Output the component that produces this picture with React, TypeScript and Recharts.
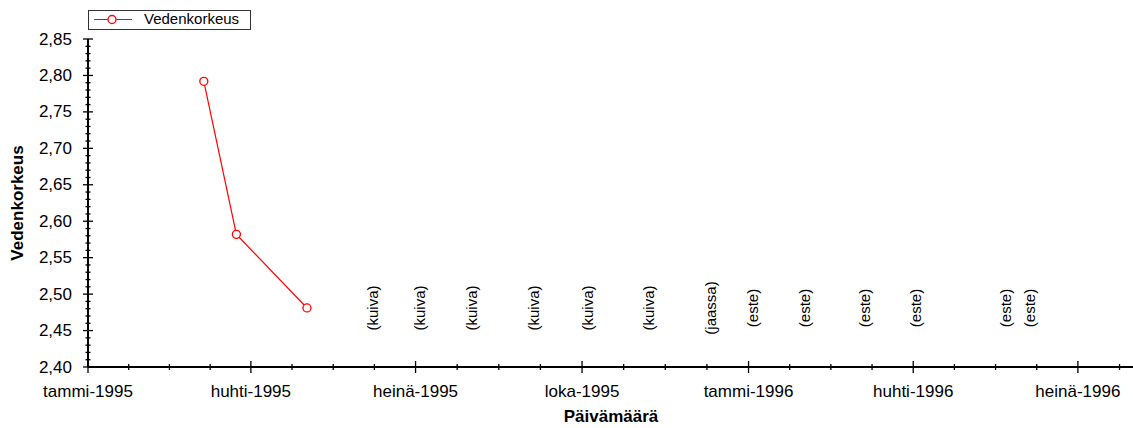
import React from 'react';
import { ComposedChart, Line, Scatter, XAxis, YAxis, Legend, Label } from 'recharts';

const FONT = '"Liberation Sans", Arial, Helvetica, sans-serif';

// measured water levels
const measureDates = ['1995-03-06', '1995-03-24', '1995-05-02'];
const measureLevels = [2.792, 2.582, 2.481];

// visits without a reading
const noteDates = [
  '1995-06-07', '1995-07-03', '1995-08-01', '1995-09-04', '1995-10-04', '1995-11-07',
  '1995-12-11', '1996-01-03', '1996-02-01', '1996-03-05', '1996-04-02', '1996-05-22', '1996-06-04',
];
const noteTexts = [
  '(kuiva)', '(kuiva)', '(kuiva)', '(kuiva)', '(kuiva)', '(kuiva)',
  '(jaassa)', '(este)', '(este)', '(este)', '(este)', '(este)', '(este)',
];
const noteLevel = 2.481;

// axes
const dateRange = ['1995-01-01', '1996-08-01'];
const quarterDates = [
  '1995-01-01', '1995-04-01', '1995-07-01', '1995-10-01',
  '1996-01-01', '1996-04-01', '1996-07-01', '1996-10-01',
];
const quarterLabels = [
  'tammi-1995', 'huhti-1995', 'heinä-1995', 'loka-1995',
  'tammi-1996', 'huhti-1996', 'heinä-1996', 'loka-1996',
];
const levelRange = [2.4, 2.85];
const levelMajors = [2.4, 2.45, 2.5, 2.55, 2.6, 2.65, 2.7, 2.75, 2.8, 2.85];

const ts = (d: string) => new Date(d + 'T00:00:00Z').getTime();

const levelData = measureDates.map((d, i) => ({ t: ts(d), v: measureLevels[i] }));
const noteData = noteDates.map((d, i) => ({ t: ts(d), v: noteLevel, note: noteTexts[i] }));

const xDomain = [ts(dateRange[0]), ts(dateRange[1])];
const quarterTs = quarterDates.map(ts);
const quarterLabelOf: Record<number, string> = {};
quarterTs.forEach((q, i) => (quarterLabelOf[q] = quarterLabels[i]));

// each quarter split in four
const xTicks: number[] = [];
for (let i = 0; i < quarterTs.length - 1; i++) {
  const a = quarterTs[i];
  const b = quarterTs[i + 1];
  for (let k = 0; k < 4; k++) {
    const t = Math.round(a + ((b - a) * k) / 4);
    if (t <= xDomain[1]) xTicks.push(t);
  }
}

// minor tick every 0.01
const yTicks: number[] = [];
for (let i = 0; i < levelMajors.length - 1; i++) {
  for (let k = 0; k < 5; k++) yTicks.push(Math.round(levelMajors[i] * 100 + k) / 100);
}
yTicks.push(levelMajors[levelMajors.length - 1]);
const isMajorY = (v: number) => Math.round(v * 100) % 5 === 0;
const fmtLevel = (v: number) => v.toFixed(2).replace('.', ',');

const BottomTick = (props: any) => {
  const { x, y, payload } = props;
  const label = quarterLabelOf[payload.value];
  const len = label ? 6 : 3;
  return (
    <g>
      <line x1={x} x2={x} y1={y - len} y2={y + len} stroke="#000" strokeWidth={1.3} />
      {label && (
        <text x={x} y={y + 30} textAnchor="middle" fontSize={17} fill="#000" fontFamily={FONT}>
          {label}
        </text>
      )}
    </g>
  );
};

const TopTick = (props: any) => {
  const { x, y, payload } = props;
  const len = quarterLabelOf[payload.value] ? 6 : 3;
  return <line x1={x} x2={x} y1={y} y2={y + len} stroke="#222" strokeWidth={1} />;
};

const LeftTick = (props: any) => {
  const { x, y, payload } = props;
  const major = isMajorY(payload.value);
  const len = major ? 5 : 2.5;
  return (
    <g>
      <line x1={x - len} x2={x + len} y1={y} y2={y} stroke="#000" strokeWidth={1.3} />
      {major && (
        <text x={x - 16} y={y} textAnchor="end" dominantBaseline="central" fontSize={17} fill="#000" fontFamily={FONT}>
          {fmtLevel(payload.value)}
        </text>
      )}
    </g>
  );
};

const RightTick = (props: any) => {
  const { x, y, payload } = props;
  const len = isMajorY(payload.value) ? 5 : 2.5;
  return <line x1={x - len} x2={x} y1={y} y2={y} stroke="#222" strokeWidth={1} />;
};

const NoteMark = (props: any) => {
  const { cx, cy, payload } = props;
  return (
    <text
      x={cx}
      y={cy}
      transform={`rotate(-90 ${cx} ${cy})`}
      textAnchor="middle"
      dominantBaseline="central"
      fontSize={15}
      fill="#000"
      fontFamily={FONT}
    >
      {payload.note}
    </text>
  );
};

const LegendBox = () => (
  <svg width={164} height={21} style={{ display: 'block' }}>
    <rect x={0.5} y={0.5} width={162} height={19} fill="#fff" stroke="#333" />
    <line x1={6} x2={44} y1={9.5} y2={9.5} stroke="#ff0000" strokeWidth={1} />
    <circle cx={24} cy={9.5} r={4} fill="#fff" stroke="#ff0000" strokeWidth={1.3} />
    <text x={56} y={14} fontSize={15} fill="#000" fontFamily={FONT}>
      Vedenkorkeus
    </text>
  </svg>
);

export default function App() {
  return (
    <div
      style={{
        position: 'absolute',
        left: 0,
        top: 0,
        width: 1133,
        height: 428,
        overflow: 'hidden',
        background: '#fff',
        fontFamily: FONT,
      }}
    >
      <ComposedChart width={1140} height={428} margin={{ top: 39, right: 6, bottom: 0, left: 0 }}>
        <XAxis
          xAxisId="x"
          dataKey="t"
          type="number"
          domain={xDomain}
          ticks={xTicks}
          interval={0}
          height={61}
          tickSize={0}
          tickMargin={0}
          tickLine={false}
          tick={<BottomTick />}
          axisLine={{ stroke: '#000', strokeWidth: 2 }}
        >
          <Label
            content={(p: any) => {
              const vb = p.viewBox || { x: 88, y: 367, width: 1046 };
              return (
                <text
                  x={vb.x + vb.width / 2}
                  y={vb.y + 55}
                  textAnchor="middle"
                  fontSize={17}
                  fontWeight="bold"
                  fill="#000"
                  fontFamily={FONT}
                >
                  Päivämäärä
                </text>
              );
            }}
          />
        </XAxis>
        <XAxis
          xAxisId="top"
          orientation="top"
          type="number"
          domain={xDomain}
          ticks={xTicks}
          interval={0}
          height={0}
          tickSize={0}
          tickMargin={0}
          tickLine={false}
          tick={<TopTick />}
          axisLine={{ stroke: '#222', strokeWidth: 1 }}
        />
        <YAxis
          yAxisId="left"
          dataKey="v"
          type="number"
          domain={levelRange}
          ticks={yTicks}
          interval={0}
          width={88}
          tickSize={0}
          tickMargin={0}
          tickLine={false}
          tick={<LeftTick />}
          axisLine={{ stroke: '#000', strokeWidth: 2 }}
        >
          <Label
            content={(p: any) => {
              const vb = p.viewBox || { x: 0, y: 39, height: 328 };
              const lx = vb.x + 23;
              const ly = vb.y + vb.height / 2;
              return (
                <text
                  x={lx}
                  y={ly}
                  transform={`rotate(-90 ${lx} ${ly})`}
                  textAnchor="middle"
                  fontSize={17}
                  fontWeight="bold"
                  fill="#000"
                  fontFamily={FONT}
                >
                  Vedenkorkeus
                </text>
              );
            }}
          />
        </YAxis>
        <YAxis
          yAxisId="right"
          orientation="right"
          type="number"
          domain={levelRange}
          ticks={yTicks}
          interval={0}
          width={0}
          tickSize={0}
          tickMargin={0}
          tickLine={false}
          tick={<RightTick />}
          axisLine={{ stroke: '#222', strokeWidth: 1 }}
        />
        <Legend
          layout="horizontal"
          verticalAlign="middle"
          align="center"
          wrapperStyle={{ left: 88, top: 10, width: 164, height: 21, lineHeight: 0 }}
          content={() => <LegendBox />}
        />
        <Line
          xAxisId="x"
          yAxisId="left"
          data={levelData}
          dataKey="v"
          name="Vedenkorkeus"
          stroke="#ff0000"
          strokeWidth={1.2}
          dot={{ r: 4, stroke: '#ff0000', strokeWidth: 1.3, fill: '#fff' }}
          activeDot={false}
          isAnimationActive={false}
        />
        <Scatter
          xAxisId="x"
          yAxisId="left"
          data={noteData}
          dataKey="v"
          shape={<NoteMark />}
          legendType="none"
          isAnimationActive={false}
        />
      </ComposedChart>
    </div>
  );
}
